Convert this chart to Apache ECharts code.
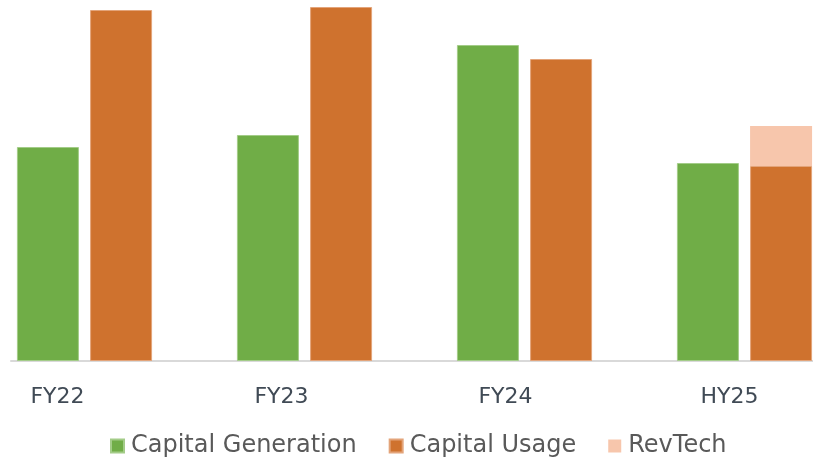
<!DOCTYPE html>
<html>
<head>
<meta charset="utf-8">
<script src="https://cdn.jsdelivr.net/npm/echarts@6/dist/echarts.min.js"></script>
<style>
  html, body { margin: 0; padding: 0; background: #fff; }
  #chart { width: 813px; height: 458px; }
</style>
</head>
<body>
<div id="chart"></div>
<script>
// Period categories and capital figures per period
const periods = ['FY22', 'FY23', 'FY24', 'HY25'];
const capitalGeneration = [214, 226, 316, 198];
const capitalUsage = [351, 354, 302, 195];
const revTech = [null, null, null, 40];

const FONT = '"DejaVu Sans", sans-serif';

const chart = echarts.init(document.getElementById('chart'));

chart.setOption({
  animation: false,
  backgroundColor: '#ffffff',
  legend: {
    left: 105,
    top: 429,
    icon: 'rect',
    itemWidth: 13,
    itemHeight: 13,
    itemGap: 32,
    textStyle: { fontFamily: FONT, fontSize: 24, color: '#595959', padding: [0, 0, 0, 2] },
    data: ['Capital Generation', 'Capital Usage', 'RevTech']
  },
  grid: [
    // bars
    { left: -25.5, right: -41.5, top: 0, bottom: 97, outerBoundsMode: 'none' },
    // period labels
    { left: -54.5, right: -28.5, top: 360, bottom: 97, outerBoundsMode: 'none' },
    // baseline
    { left: 11, right: 0, top: 360, bottom: 97, outerBoundsMode: 'none' }
  ],
  xAxis: [
    {
      type: 'category', gridIndex: 0, data: periods,
      axisLine: { show: false }, axisTick: { show: false }, axisLabel: { show: false }
    },
    {
      type: 'category', gridIndex: 1, data: periods,
      axisLine: { show: false }, axisTick: { show: false },
      axisLabel: { margin: 25, fontFamily: FONT, fontSize: 22, color: '#404A55' }
    },
    {
      type: 'category', gridIndex: 2, data: ['base'],
      axisLine: { show: true, lineStyle: { color: '#D9D9D9', width: 2 } },
      axisTick: { show: false }, axisLabel: { show: false }
    }
  ],
  yAxis: [
    { type: 'value', gridIndex: 0, min: 0, max: 361, show: false },
    { type: 'value', gridIndex: 1, show: false },
    { type: 'value', gridIndex: 2, show: false }
  ],
  series: [
    {
      name: 'Capital Generation', type: 'bar', stack: 'gen',
      xAxisIndex: 0, yAxisIndex: 0,
      barWidth: 62, barGap: '18%',
      itemStyle: { color: '#70AD47', borderColor: '#A3CC88', borderWidth: 1 },
      data: capitalGeneration
    },
    {
      name: 'Capital Usage', type: 'bar', stack: 'use',
      xAxisIndex: 0, yAxisIndex: 0,
      barWidth: 62, barGap: '18%',
      itemStyle: { color: '#CF722E', borderColor: '#E3A47A', borderWidth: 1 },
      data: capitalUsage
    },
    {
      name: 'RevTech', type: 'bar', stack: 'use',
      xAxisIndex: 0, yAxisIndex: 0,
      barWidth: 62, barGap: '18%',
      itemStyle: { color: '#F7C6AC' },
      data: revTech
    }
  ]
});
</script>
</body>
</html>
